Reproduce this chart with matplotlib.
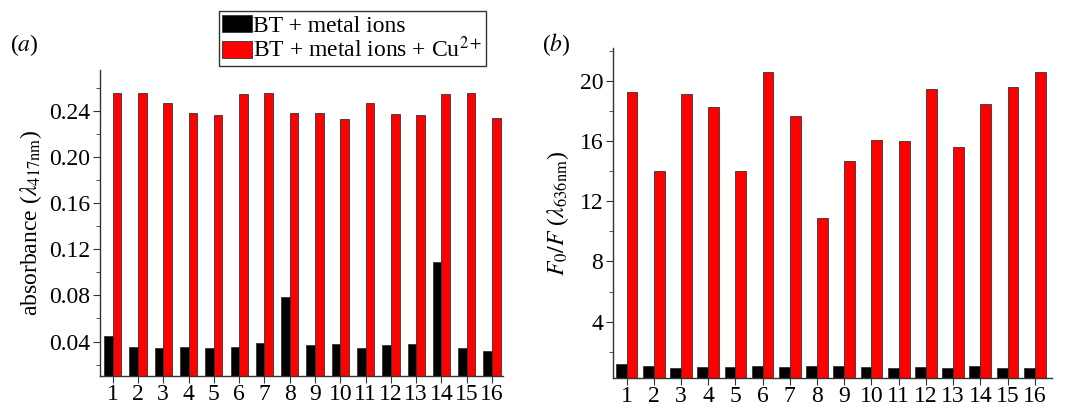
import numpy as np
import matplotlib
matplotlib.use('Agg')
import matplotlib.pyplot as plt
from matplotlib.ticker import MultipleLocator

plt.rcParams['font.family'] = ['Liberation Serif', 'DejaVu Serif']
plt.rcParams['mathtext.fontset'] = 'stix'

samples = np.arange(1, 17)
tick_labels = [str(i) for i in samples]

# panel (a): absorbance at 417 nm
abs_metal = [0.045, 0.035, 0.034, 0.035, 0.034, 0.035, 0.039, 0.079,
             0.037, 0.038, 0.034, 0.037, 0.038, 0.109, 0.034, 0.032]
abs_metal_cu = [0.256, 0.256, 0.247, 0.239, 0.237, 0.255, 0.256, 0.239,
                0.239, 0.233, 0.247, 0.238, 0.237, 0.255, 0.256, 0.234]

# panel (b): F0/F at 636 nm
fl_metal = [1.16, 1.03, 0.93, 0.98, 0.98, 1.03, 1.00, 1.07,
            1.03, 0.98, 0.89, 0.98, 0.93, 1.07, 0.93, 0.93]
fl_metal_cu = [19.3, 14.0, 19.15, 18.3, 14.0, 20.6, 17.7, 10.9,
               14.7, 16.1, 16.0, 19.5, 15.6, 18.5, 19.6, 20.6]

series_names = ['BT + metal ions', r'BT + metal ions + Cu$^{2+}$']

FS = 17

fig = plt.figure(figsize=(10.66, 4.08), dpi=100)
axa = fig.add_axes([0.0938, 0.0784, 0.3785, 0.75])
axb = fig.add_axes([0.575, 0.0735, 0.412, 0.809])

def draw(ax, black, red, w):
    b1 = ax.bar(samples, black, width=-w, align='edge', color='black',
                edgecolor='#333333', linewidth=0.6)
    b2 = ax.bar(samples, red, width=w, align='edge', color='#ff0000',
                edgecolor='#333333', linewidth=0.6)
    for s in ['top', 'right']:
        ax.spines[s].set_visible(False)
    for s in ['left', 'bottom']:
        ax.spines[s].set_color('#333333')
        ax.spines[s].set_linewidth(1.0)
    ax.set_xticks(samples)
    ax.set_xticklabels(tick_labels)
    ax.tick_params(axis='both', which='major', labelsize=FS, length=5,
                   direction='out', color='#333333')
    ax.tick_params(axis='y', which='minor', length=3, direction='out',
                   color='#333333')
    ax.tick_params(axis='x', pad=1)
    ax.tick_params(axis='y', pad=2)
    return b1, b2

h1, h2 = draw(axa, abs_metal, abs_metal_cu, 0.34)
axa.set_xlim(0.5, 16.45)
axa.set_ylim(0.01, 0.276)
axa.set_yticks([0.04, 0.08, 0.12, 0.16, 0.20, 0.24])
axa.set_yticklabels(['0.04', '0.08', '0.12', '0.16', '0.20', '0.24'])
axa.yaxis.set_minor_locator(MultipleLocator(0.02))
axa.set_ylabel(r'absorbance ($\lambda_{417\mathrm{nm}}$)', fontsize=FS, labelpad=4)

draw(axb, fl_metal, fl_metal_cu, 0.4)
axb.set_xlim(0.5, 16.64)
axb.set_ylim(0.25, 22.2)
axb.set_yticks([4, 8, 12, 16, 20])
axb.yaxis.set_minor_locator(MultipleLocator(2))
axb.set_ylabel(r'$F_0/F$ ($\lambda_{636\mathrm{nm}}$)', fontsize=FS, labelpad=6)

fig.text(0.009, 0.89, r'($a$)', fontsize=FS, va='center')
fig.text(0.508, 0.89, r'($b$)', fontsize=FS, va='center')

leg = fig.legend([h1, h2], series_names, loc='upper left',
                 bbox_to_anchor=(0.205, 0.972), fontsize=FS,
                 frameon=True, fancybox=False, edgecolor='black',
                 handlelength=1.25, handleheight=0.75, handletextpad=0.05,
                 borderpad=0.15, labelspacing=0.0, borderaxespad=0)
leg.get_frame().set_linewidth(1.0)

fig.savefig('out.png', dpi=100)
